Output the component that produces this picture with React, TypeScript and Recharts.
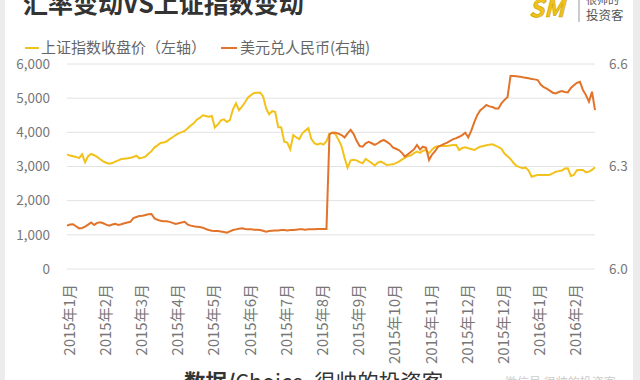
import React from 'react';
import { LineChart, Line, XAxis, YAxis, CartesianGrid } from 'recharts';

const tickLabels = [
  '2015年1月', '2015年2月', '2015年3月', '2015年4月', '2015年5月', '2015年6月', '2015年7月',
  '2015年8月', '2015年9月', '2015年10月', '2015年11月', '2015年12月', '2015年12月', '2016年1月', '2016年2月',
];

const shIndex = [
  3357, 3320, 3300, 3280, 3245, 3357, 3123, 3300, 3366, 3330, 3280, 3211, 3150, 3110,
  3080, 3100, 3141, 3180, 3220, 3230, 3240, 3258, 3280, 3316, 3240, 3260, 3290, 3370, 3450, 3562, 3620, 3690, 3700, 3730, 3800, 3855, 3920, 3972, 4005,
  4040, 4118, 4200, 4265, 4370, 4420, 4500, 4480, 4458, 4478, 4140, 4230, 4350, 4380, 4300, 4361, 4674, 4850, 4650, 4750, 4880, 5020, 5090, 5150, 5160,
  5166, 5050, 4700, 4530, 4620, 4600, 4150, 4148, 3726, 3700, 3504, 3920, 3850, 3800, 3972, 4050, 4118, 3800, 3680, 3640, 3680, 3640, 3740, 3960, 3990, 3940, 3780,
  3600, 3250, 2960, 3180, 3200, 3180, 3130, 3094, 3220, 3160, 3100, 3030, 3112, 3141, 3100, 3044, 3055, 3064, 3100, 3141, 3200, 3260, 3300,
  3330, 3390, 3434, 3400, 3460, 3480, 3386, 3500, 3570, 3590, 3600, 3600, 3600, 3615, 3630, 3630, 3483, 3540, 3560, 3533, 3510, 3483, 3540, 3580, 3600,
  3620, 3640, 3650, 3610, 3570, 3520, 3380, 3300, 3220, 3100, 3015, 2980, 2950, 2970, 2880, 2700, 2730, 2751, 2751, 2751, 2751, 2760, 2800, 2848, 2865,
  2880, 2940, 2947, 2722, 2751, 2890, 2898, 2898, 2830, 2850, 2898, 2977,
];

const usdCny = [
  6.127, 6.130, 6.131, 6.125, 6.119, 6.120, 6.124, 6.130, 6.136, 6.129, 6.135, 6.137, 6.134, 6.130,
  6.127, 6.130, 6.132, 6.129, 6.131, 6.134, 6.136, 6.138, 6.149, 6.152, 6.155, 6.156, 6.158, 6.160, 6.161, 6.148, 6.144, 6.141, 6.140, 6.140, 6.138, 6.135, 6.132, 6.134, 6.136,
  6.138, 6.130, 6.127, 6.125, 6.124, 6.123, 6.121, 6.117, 6.114, 6.112, 6.111, 6.111, 6.110, 6.108, 6.106, 6.110, 6.114, 6.116, 6.118, 6.119, 6.117, 6.116, 6.116, 6.115, 6.115,
  6.114, 6.112, 6.109, 6.111, 6.112, 6.113, 6.113, 6.114, 6.114, 6.113, 6.114, 6.114, 6.115, 6.116, 6.116, 6.115, 6.116, 6.116, 6.116, 6.117, 6.117, 6.117, 6.117, 6.395, 6.399, 6.399, 6.396,
  6.392, 6.385, 6.397, 6.407, 6.395, 6.375, 6.360, 6.358, 6.368, 6.372, 6.368, 6.363, 6.368, 6.374, 6.378, 6.372, 6.366, 6.356, 6.352, 6.348, 6.340, 6.329, 6.336,
  6.343, 6.350, 6.363, 6.350, 6.358, 6.355, 6.319, 6.335, 6.345, 6.358, 6.362, 6.366, 6.370, 6.375, 6.380, 6.383, 6.387, 6.392, 6.399, 6.385, 6.405, 6.430, 6.451, 6.465, 6.472,
  6.480, 6.476, 6.474, 6.470, 6.470, 6.485, 6.495, 6.503, 6.565, 6.565, 6.564, 6.563, 6.561, 6.560, 6.558, 6.556, 6.555, 6.553, 6.540, 6.532, 6.528, 6.522, 6.516, 6.514, 6.518,
  6.521, 6.518, 6.517, 6.530, 6.538, 6.545, 6.548, 6.524, 6.509, 6.490, 6.519, 6.465,
];

const leftTicks = [0, 1000, 2000, 3000, 4000, 5000, 6000];
const rightTicks = [6.0, 6.3, 6.6];

const data = shIndex.map((v, j) => ({
  month: tickLabels[Math.floor(j / 12)],
  sh: v,
  usd: usdCny[j],
}));

const FONT = '"Noto Sans CJK SC", "Noto Sans", sans-serif';
const YELLOW = '#F2C21A';
const ORANGE = '#E2742A';

const XTick = (props: any) => {
  const { x, y, payload } = props;
  return (
    <text
      transform={`translate(${x + 1},${y + 15}) rotate(-90)`}
      textAnchor="end"
      dominantBaseline="central"
      fontSize={15}
      fill="#777"
      fontFamily={FONT}
    >
      {payload.value}
    </text>
  );
};

export default function App() {
  return (
    <div style={{ position: 'fixed', left: 0, top: 0, width: 640, height: 380, background: '#fff', overflow: 'hidden' }}>
      <LineChart
        width={640}
        height={380}
        data={data}
        margin={{ top: 64, right: 0, bottom: 0, left: 0 }}
      >
        <CartesianGrid yAxisId="left" vertical={false} stroke="#e2e2e2" strokeWidth={1} />
        <XAxis
          dataKey="month"
          interval={11}
          height={111}
          axisLine={false}
          tickLine={false}
          tickSize={0}
          tickMargin={0}
          tick={<XTick />}
        />
        <YAxis
          yAxisId="left"
          orientation="left"
          width={67}
          domain={[0, 6000]}
          ticks={leftTicks}
          axisLine={false}
          tickLine={false}
          tickSize={0}
          tickMargin={17}
          tickFormatter={(v: number) => v.toLocaleString('en-US')}
          tick={{ fontSize: 13.5, fill: '#777', fontFamily: FONT }}
        />
        <YAxis
          yAxisId="right"
          orientation="right"
          width={45}
          domain={[6.0, 6.6]}
          ticks={rightTicks}
          axisLine={false}
          tickLine={false}
          tickSize={0}
          tickMargin={14}
          tickFormatter={(v: number) => v.toFixed(1)}
          tick={{ fontSize: 13.5, fill: '#777', fontFamily: FONT, textAnchor: 'start' }}
        />
        <Line
          yAxisId="left"
          type="linear"
          dataKey="sh"
          stroke={YELLOW}
          strokeWidth={2}
          dot={false}
          isAnimationActive={false}
        />
        <Line
          yAxisId="right"
          type="linear"
          dataKey="usd"
          stroke={ORANGE}
          strokeWidth={2}
          dot={false}
          isAnimationActive={false}
        />
      </LineChart>
      <svg
        width={640}
        height={380}
        style={{ position: 'absolute', left: 0, top: 0, pointerEvents: 'none' }}
        fontFamily={FONT}
      >
        <rect x={0} y={0} width={5} height={380} fill="#ececec" />
        <rect x={633} y={0} width={7} height={380} fill="#ececec" />
        <text x={23} y={13} fontSize={25} fontWeight="bold" fill="#333">汇率变动VS上证指数变动</text>
        <text x={529} y={17} fontSize={24} fontWeight="bold" fontStyle="italic" fill={YELLOW} stroke="#c9a000" strokeWidth={0.6}>SM</text>
        <line x1={579} y1={0} x2={579} y2={22} stroke="#999" strokeWidth={1} />
        <text x={586} y={4} fontSize={11} fill="#555">很帅的</text>
        <text x={586} y={20} fontSize={12.5} fill="#555">投资客</text>
        <line x1={25} y1={48} x2={39} y2={48} stroke={YELLOW} strokeWidth={2} />
        <text x={41} y={53} fontSize={15} fill="#666">上证指数收盘价（左轴）</text>
        <line x1={221} y1={48} x2={237} y2={48} stroke={ORANGE} strokeWidth={2} />
        <text x={240} y={53} fontSize={15} fill="#666">美元兑人民币(右轴)</text>
        <text x={184} y={390} fontSize={21.5} fill="#333">
          <tspan fontWeight="bold">数据/</tspan>
          <tspan>Choice, 很帅的投资客</tspan>
        </text>
        <text x={505} y={387} fontSize={12} fill="#ccc">微信号 很帅的投资客</text>
      </svg>
    </div>
  );
}
